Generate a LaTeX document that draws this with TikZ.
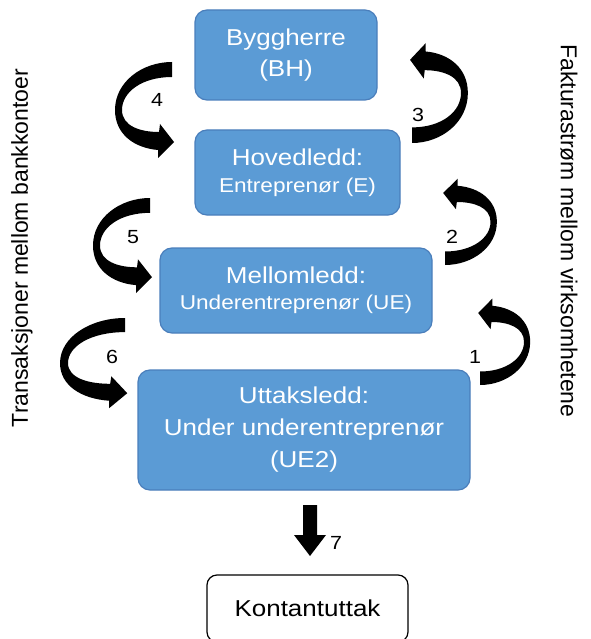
\documentclass[tikz,border=0pt]{standalone}
\usepackage{fontspec}
\setmainfont{Liberation Sans}[FakeStretch=1.13]
\newfontfamily\sidefont{Liberation Sans}
\definecolor{boxblue}{HTML}{5B9BD5}
\definecolor{boxedge}{HTML}{4A7EBB}

\tikzset{
  stage/.style={draw=boxedge, line width=1.2pt, fill=boxblue, rounded corners=12pt,
    text=white, align=center, inner sep=0pt},
  bigtext/.style={font=\fontsize{23}{31}\selectfont},
  outbox/.style={draw=black, line width=1.2pt, fill=white, rounded corners=10pt,
    inner sep=0pt, font=\fontsize{23}{28}\selectfont},
  steplabel/.style={font=\fontsize{19}{22}\selectfont, inner sep=0pt},
  sidelabel/.style={font=\sidefont\fontsize{23}{27}\selectfont, inner sep=0pt},
  % curved block arrow: tail end at the origin, bulging left, head pointing right
  looparrow/.pic={
    \fill[black] (0,0) .. controls (-30,0) and (-57,20) .. (-57,48)
      .. controls (-57,72) and (-38,86) .. (-14,88)
      -- (-14,96) -- (2,80) -- (-12,62) -- (-13,70)
      .. controls (-32,70) and (-50,64) .. (-50,48)
      .. controls (-50,30) and (-30,15) .. (0,15) -- cycle;
  }
}

\begin{document}
\begin{tikzpicture}[x=1pt,y=-1pt]
  \useasboundingbox (0,0) rectangle (590,639);

  % chain of contractors
  \node[stage, bigtext, minimum width=182pt, minimum height=90pt] (bh) at (286,55)
    {Byggherre\\(BH)};
  \node[stage, font=\fontsize{23}{27}\selectfont, minimum width=205pt, minimum height=85pt] (e) at (297.5,172.5)
    {Hovedledd:\\{\fontsize{20}{27}\selectfont Entreprenør (E)}};
  \node[stage, font=\fontsize{23}{26}\selectfont, minimum width=272pt, minimum height=85pt] (ue) at (296,290.5)
    {Mellomledd:\\{\fontsize{20}{26}\selectfont Underentreprenør (UE)}};
  \node[stage, font=\fontsize{23}{32}\selectfont, minimum width=332pt, minimum height=120pt] (ue2) at (304,430)
    {Uttaksledd:\\Under underentreprenør\\(UE2)};
  \node[outbox, minimum width=201pt, minimum height=67pt] (cash) at (307.5,608.5) {Kontantuttak};

  % payments (left) and invoices (right)
  \pic at (172,62) {looparrow};
  \pic[yscale=0.99] at (150,198) {looparrow};
  \pic[xscale=1.14, yscale=0.94] at (125,318) {looparrow};
  \pic[rotate=180, xscale=0.98, yscale=1.04] at (412,143) {looparrow};
  \pic[rotate=180, xscale=0.91, yscale=0.9] at (445,265) {looparrow};
  \pic[rotate=180, xscale=0.88, yscale=0.9] at (480,385) {looparrow};

  % cash withdrawal
  \coordinate (k7) at (310,530);
  \fill[black, shift={(k7)}] (-7,-25) -- (7,-25) -- (7,5) -- (16,5) -- (0,26)
    -- (-16,5) -- (-7,5) -- cycle;

  % step numbers
  \node[steplabel] (n4) at (157,100) {4};
  \node[steplabel] (n3) at (418,115) {3};
  \node[steplabel] (n5) at (133,237) {5};
  \node[steplabel] (n2) at (452,237) {2};
  \node[steplabel] (n6) at (112,357) {6};
  \node[steplabel] (n1) at (475,357) {1};
  \node[steplabel] (n7) at (336,543) {7};

  % side captions
  \node[sidelabel, rotate=90] (bank) at (22,248) {Transaksjoner mellom bankkontoer};
  \node[sidelabel, rotate=-90] (inv) at (569,231) {Fakturastrøm mellom virksomhetene};
\end{tikzpicture}
\end{document}
